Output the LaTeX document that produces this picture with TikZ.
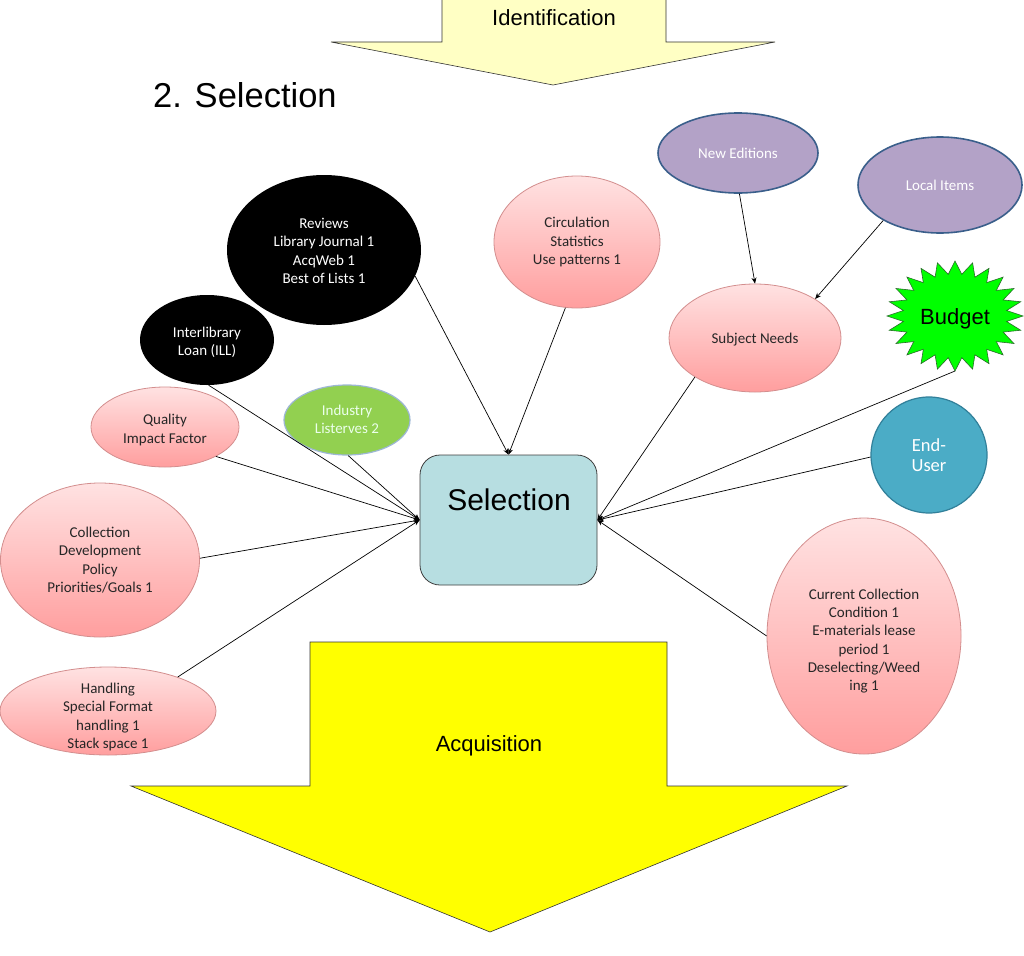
\documentclass[tikz,border=0pt]{standalone}
\usepackage{fontspec}
\setmainfont{Carlito}
\newfontfamily\arialf{Liberation Sans}
\usetikzlibrary{shapes.geometric,arrows.meta}
\definecolor{pinkT}{HTML}{FFE2E2}
\definecolor{pinkBot}{HTML}{FF9E9E}
\definecolor{pinkD}{HTML}{D38E8E}
\definecolor{txt}{HTML}{262626}
\definecolor{purpF}{HTML}{B3A2C7}
\definecolor{purpD}{HTML}{3A5F8B}
\definecolor{endF}{HTML}{4BACC6}
\definecolor{endD}{HTML}{31809A}
\definecolor{indF}{HTML}{92D050}
\definecolor{indD}{HTML}{9DB7D5}
\definecolor{selF}{HTML}{B7DEE1}
\definecolor{selD}{HTML}{3F3F3F}
\definecolor{idF}{HTML}{FFFFC4}
\definecolor{acqF}{HTML}{FFFF00}
\definecolor{budF}{HTML}{00FF00}
\definecolor{budD}{HTML}{2A6A2A}
\begin{document}
\begin{tikzpicture}[x=1pt,y=-1pt,
  ell/.style={ellipse, inner sep=0pt},
  ptext/.style={align=center, inner sep=0pt, text=txt, font=\fontsize{15}{18.3}\selectfont},
  wtext/.style={align=center, inner sep=0pt, text=white, font=\fontsize{15}{18.3}\selectfont},
  pinkell/.style={ell, draw=pinkD, line width=0.8pt, top color=pinkT, bottom color=pinkBot},
  blackell/.style={ell, fill=black},
  purpell/.style={ell, fill=purpF, draw=purpD, line width=1.6pt},
  conn/.style={draw=black, line width=0.7pt, -{Stealth[length=6pt,width=5pt]}},
  bigarrow/.style={draw=black!80, line width=0.6pt},
]
\useasboundingbox (0,0) rectangle (1024,955);
\fill[white] (0,0) rectangle (1024,955);

% Identification arrow
\draw[bigarrow, fill=idF] (442,-3) -- (666,-3) -- (666,42) -- (775,42) -- (553,85) -- (331,42) -- (442,42) -- cycle;
\node[anchor=base, inner sep=0pt, font=\arialf\fontsize{22}{24}\selectfont] (ident) at (554,26) {Identification};

% Title
\node[anchor=base west, inner sep=0pt, font=\arialf\fontsize{34.5}{40}\selectfont] (title) at (153,108) {2. Selection};

% Acquisition arrow
\draw[bigarrow, fill=acqF] (310,642) -- (667,642) -- (667,786) -- (847,786) -- (490,932) -- (131,786) -- (310,786) -- cycle;
\node[anchor=base, inner sep=0pt, font=\arialf\fontsize{22}{24}\selectfont] (acq) at (489,751) {Acquisition};

% Selection box
\node[draw=selD, fill=selF, rounded corners=20pt, line width=0.8pt, minimum width=177pt, minimum height=130pt] (sel) at (508.5,520) {};
\node[anchor=base, inner sep=0pt, font=\arialf\fontsize{30}{34}\selectfont] (seltxt) at (509,510) {Selection};

% Ellipses
\node[blackell, minimum width=194pt, minimum height=150pt, label={[wtext, yshift=-1pt]center:Reviews\\Library Journal 1\\AcqWeb 1\\Best of Lists 1}] (rev) at (324,250) {};
\node[blackell, minimum width=134pt, minimum height=90pt, label={[wtext, yshift=-2pt]center:Interlibrary\\Loan (ILL)}] (ill) at (207,340) {};
\node[pinkell, minimum width=166pt, minimum height=132pt, label={[ptext]center:Circulation\\Statistics\\Use patterns 1}] (circ) at (577,242) {};
\node[purpell, minimum width=160pt, minimum height=80pt, label={[wtext]center:New Editions}] (ned) at (738,153) {};
\node[purpell, minimum width=164pt, minimum height=96pt, label={[wtext]center:Local Items}] (loc) at (940,185) {};
\node[pinkell, minimum width=172pt, minimum height=108pt, label={[ptext, yshift=-2pt]center:Subject Needs}] (subj) at (755,338) {};
\node[ell, fill=endF, draw=endD, line width=1.2pt, minimum width=116pt, minimum height=116pt, label={[wtext, font=\fontsize{18.5}{20.5}\selectfont]center:End-\\User}] (end) at (929,455) {};
\node[pinkell, minimum width=194pt, minimum height=236pt, label={[ptext, yshift=-5pt]center:Current Collection\\Condition 1\\E-materials lease\\period 1\\Deselecting/Weed\\ing 1}] (cur) at (864,636) {};
\node[ell, fill=indF, draw=indD, line width=1.2pt, minimum width=126pt, minimum height=70pt, label={[wtext, text=white!92!green, yshift=1pt]center:Industry\\Listerves 2}] (ind) at (347,420) {};
\node[pinkell, minimum width=148pt, minimum height=80pt, label={[ptext, yshift=-3pt]center:Quality\\Impact Factor}] (qual) at (165,427) {};
\node[pinkell, minimum width=199pt, minimum height=154pt, label={[ptext]center:Collection\\Development\\Policy\\Priorities/Goals 1}] (cdp) at (100,560) {};
\node[pinkell, minimum width=216pt, minimum height=88pt, label={[ptext, yshift=-6pt]center:Handling\\Special Format\\handling 1\\Stack space 1}] (hand) at (108,711) {};

% Budget star
\draw[fill=budF, draw=budD, line width=0.6pt] (955,261)
  \foreach \i in {1,...,47}{ -- ({955+(isodd(\i)?52:68)*cos(90+7.5*\i)},{316-(isodd(\i)?42:55)*sin(90+7.5*\i)}) } -- cycle;
\node[anchor=base, inner sep=0pt, font=\arialf\fontsize{22}{24}\selectfont] (bud) at (955,324) {Budget};
\coordinate (budpt) at (955,371);

% Connectors
\draw[conn] (rev.-16) -- (sel.north);
\draw[conn] (circ.-100) -- (sel.north);
\draw[conn] (ill.-88) -- (sel.west);
\draw[conn] (ind.-88) -- (sel.west);
\draw[conn] (qual.-30) -- (sel.west);
\draw[conn] (cdp.1) -- (sel.west);
\draw[conn] (hand.26) -- (sel.west);
\draw[conn] (subj.-147) -- (sel.east);
\draw[conn] (budpt) -- (sel.east);
\draw[conn] (end.182) -- (sel.east);
\draw[conn] (cur.180) -- (sel.east);
\draw[conn] (ned.-88) -- (subj.north);
\draw[conn] (loc.-148) -- (subj.33);
\end{tikzpicture}
\end{document}
